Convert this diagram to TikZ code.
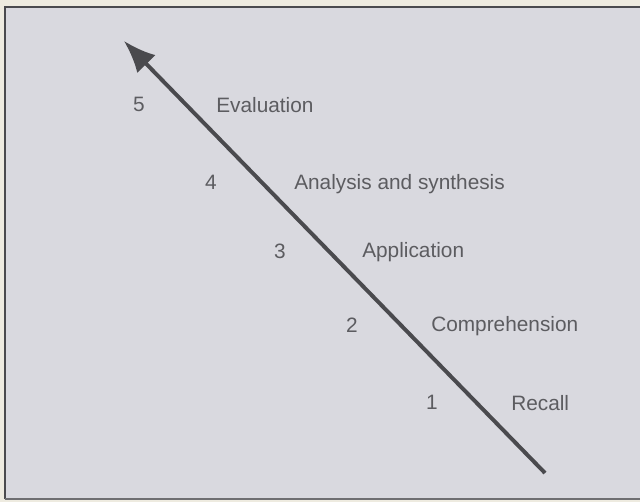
\documentclass[tikz,border=0pt]{standalone}
\usepackage{fontspec}
\setmainfont{Liberation Sans}
\usetikzlibrary{arrows.meta}

\definecolor{paper}{HTML}{D9D9DF}
\definecolor{ink}{HTML}{4A4A4E}
\definecolor{margin}{HTML}{EEEBE0}

\begin{document}
\begin{tikzpicture}[x=0.025cm, y=-0.025cm,
	every node/.style={font=\fontsize{14.8}{17}\selectfont, text=ink!90, inner sep=0pt},
	level/.style={anchor=center},
	stage/.style={anchor=west},
	>={Latex[length=8mm, width=6.4mm]}]
	\useasboundingbox (0,0) rectangle (640,502);
	\fill[margin] (0,0) rectangle (640,502);
	\fill[paper] (5,7) rectangle (642,499);
	\draw[ink, line width=1.4pt] (5,499) |- (642,7);
	\draw[ink!80, line width=1pt] (5,499) -- (642,499);
	% the arrow runs up from the lowest level
	\coordinate (low) at (545,473);
	\coordinate (high) at (124,41);
	\draw[->, ink, line width=2.8pt] (low) -- (high);
	% levels and their names
	\node[level] (n5) at (139,104) {5};
	\node[stage] (s5) at (216,105) {Evaluation};
	\node[level] (n4) at (211,182) {4};
	\node[stage] (s4) at (294,184) {Analysis and synthesis};
	\node[level] (n3) at (280,251) {3};
	\node[stage] (s3) at (362,252) {Application};
	\node[level] (n2) at (352,325) {2};
	\node[stage] (s2) at (431,326) {Comprehension};
	\node[level] (n1) at (432,402) {1};
	\node[stage] (s1) at (511,403) {Recall};
\end{tikzpicture}
\end{document}
